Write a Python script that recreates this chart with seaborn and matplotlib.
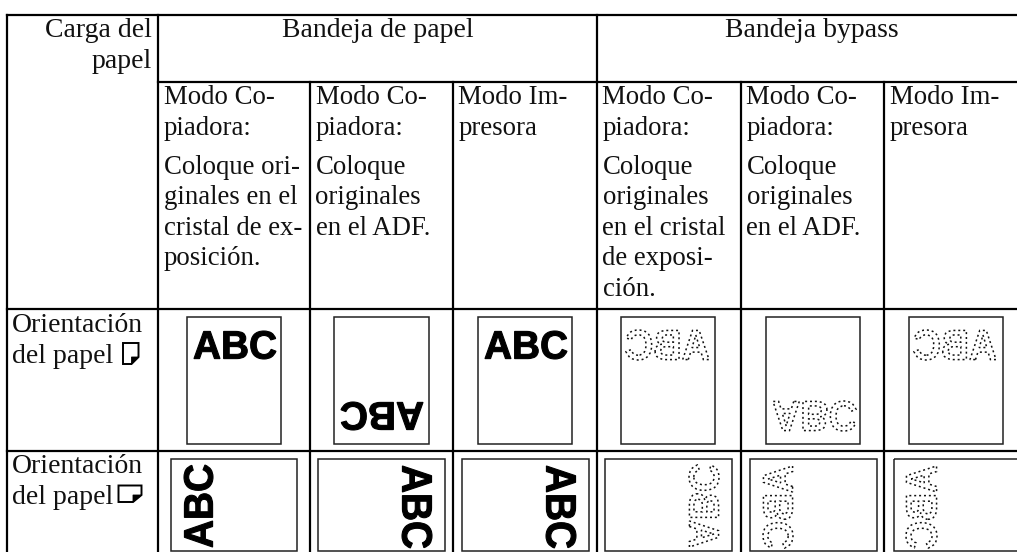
import matplotlib
matplotlib.use("Agg")
import matplotlib.pyplot as plt
import numpy as np
import seaborn as sns
from matplotlib.font_manager import FontProperties
from matplotlib.patches import PathPatch, Polygon
from matplotlib.path import Path
from matplotlib.textpath import TextPath

# ---- content ----
corner_lines = ["Carga del", "papel"]
group_titles = ["Bandeja de papel", "Bandeja bypass"]
column_texts = [
    ["Modo Co-", "piadora:", "Coloque ori-", "ginales en el", "cristal de ex-", "posición."],
    ["Modo Co-", "piadora:", "Coloque", "originales", "en el ADF."],
    ["Modo Im-", "presora"],
    ["Modo Co-", "piadora:", "Coloque", "originales", "en el cristal", "de exposi-", "ción."],
    ["Modo Co-", "piadora:", "Coloque", "originales", "en el ADF."],
    ["Modo Im-", "presora"],
]
row_labels = [["Orientación", "del papel"], ["Orientación", "del papel"]]
sample_text = "ABC"
portrait_ops = ["none", "rot180", "none", "mirror_x", "mirror_y", "mirror_x"]
landscape_ops = ["ccw", "cw", "cw", "ccw_mirror", "cw_mirror", "cw_mirror"]
dotted_flags = [False, False, False, True, True, True]

# ---- layout (pixels) ----
W, H = 1017, 552
col_edges = [7, 158, 310, 453, 597, 741, 884, 1017]
row_edges = [15, 82, 309, 451, 552]
header_base = [37, 68]
body_base = [104, 135, 174, 204, 235, 265, 296]
row_base = [[332, 363], [473, 504]]
portrait_x = [(187, 281), (334, 429), (478, 572), (621, 715), (766, 860), (909, 1003)]
portrait_y = (317, 444)
landscape_x = [(171, 297), (318, 445), (462, 589), (605, 732), (750, 877), (894, 1021)]
landscape_y = (459, 551)
portrait_txt_x = [(193, 276), (341, 424), (484, 567), (626, 710), (772, 856), (914, 997)]
portrait_txt_y = [(331, 359), (402, 430), (331, 359), (330, 360), (401, 431), (330, 360)]
landscape_txt_x = [(184, 213), (402, 432), (546, 576), (689, 719), (763, 793), (906, 937)]
landscape_txt_y = (465, 548)

sns.set_theme(style="white", rc={"figure.facecolor": "white", "axes.facecolor": "white"})
plt.rcParams["font.family"] = ["Liberation Serif", "DejaVu Serif"]
FS_BODY = 19.3
FS_HEAD = 20
INK = "#111111"

fig = plt.figure(figsize=(W / 100, H / 100), dpi=100)
ax = fig.add_axes([0, 0, 1, 1])


def rule(xs, ys, lw=1.6, color="black"):
    sns.lineplot(x=xs, y=ys, estimator=None, sort=False, color=color, linewidth=lw,
                 ax=ax, legend=False, solid_capstyle="projecting")


# table rules
for x in [col_edges[0], col_edges[1], col_edges[4]]:
    rule([x, x], [row_edges[0], H])
for x in [col_edges[2], col_edges[3], col_edges[5], col_edges[6]]:
    rule([x, x], [row_edges[1], H])
rule([col_edges[0], W], [row_edges[0]] * 2)
rule([col_edges[1], W], [row_edges[1]] * 2)
rule([col_edges[0], W], [row_edges[2]] * 2)
rule([col_edges[0], W], [row_edges[3]] * 2)

# text cells
for line, y in zip(corner_lines, header_base):
    ax.text(152, y, line, ha="right", va="baseline", fontsize=FS_HEAD, color=INK)
ax.text((col_edges[1] + col_edges[4]) / 2, header_base[0], group_titles[0],
        ha="center", va="baseline", fontsize=FS_HEAD, color=INK)
ax.text((col_edges[4] + W + 10) / 2, header_base[0], group_titles[1],
        ha="center", va="baseline", fontsize=FS_HEAD, color=INK)

for i, lines in enumerate(column_texts):
    for line, y in zip(lines, body_base[:len(lines)]):
        ax.text(col_edges[i + 1] + 5.5, y, line, ha="left", va="baseline", fontsize=FS_BODY, color=INK)
for lines, bases in zip(row_labels, row_base):
    for line, y in zip(lines, bases):
        ax.text(12, y, line, ha="left", va="baseline", fontsize=FS_HEAD, color=INK)

# paper symbols next to the row labels
ax.add_patch(Polygon([(123, 343), (138.5, 343), (138.5, 357), (131.5, 364), (123, 364)],
                     closed=True, fill=False, ec="black", lw=1.4, joinstyle="miter"))
ax.add_patch(Polygon([(131.5, 357), (138.5, 357), (131.5, 364)], closed=True, fc="black", ec="black", lw=0.6))
ax.add_patch(Polygon([(118.5, 485.5), (141.5, 485.5), (141.5, 495), (133, 502), (118.5, 502)],
                     closed=True, fill=False, ec="black", lw=1.4, joinstyle="miter"))
ax.add_patch(Polygon([(133, 495), (141.5, 495), (133, 502)], closed=True, fc="black", ec="black", lw=0.6))

# sample sheets
font = FontProperties(family="Liberation Sans", weight="bold")
OPS = {
    "none": np.array([[1, 0], [0, -1]]),
    "rot180": np.array([[-1, 0], [0, 1]]),
    "mirror_x": np.array([[-1, 0], [0, -1]]),
    "mirror_y": np.array([[1, 0], [0, 1]]),
    "ccw": np.array([[0, -1], [-1, 0]]),
    "cw": np.array([[0, 1], [1, 0]]),
    "ccw_mirror": np.array([[0, 1], [-1, 0]]),
    "cw_mirror": np.array([[0, -1], [1, 0]]),
}


def sheet_text(op, xr, yr, dotted):
    tp = TextPath((0, 0), sample_text, size=100, prop=font)
    v = tp.vertices @ OPS[op].T
    lo, hi = v.min(axis=0), v.max(axis=0)
    v = (v - lo) / (hi - lo) * [xr[1] - xr[0], yr[1] - yr[0]] + [xr[0], yr[0]]
    path = Path(v, tp.codes)
    if dotted:
        ax.add_patch(PathPatch(path, fill=False, ec="#111111", lw=1.1, linestyle=(0, (1.3, 1.9))))
    else:
        ax.add_patch(PathPatch(path, fc="black", ec="black", lw=0.8))


for i in range(6):
    l, r = portrait_x[i]
    t, b = portrait_y
    ax.add_patch(Polygon([(l, t), (r, t), (r, b), (l, b)], closed=True, fill=False, ec="#222222", lw=1.1))
    sheet_text(portrait_ops[i], portrait_txt_x[i], portrait_txt_y[i], dotted_flags[i])
    l, r = landscape_x[i]
    t, b = landscape_y
    ax.add_patch(Polygon([(l, t), (r, t), (r, b), (l, b)], closed=True, fill=False, ec="#222222", lw=1.1))
    sheet_text(landscape_ops[i], landscape_txt_x[i], landscape_txt_y, dotted_flags[i])

ax.set_xlim(0, W)
ax.set_ylim(H, 0)
ax.set_axis_off()
fig.savefig("out.png", dpi=100, facecolor="white")
